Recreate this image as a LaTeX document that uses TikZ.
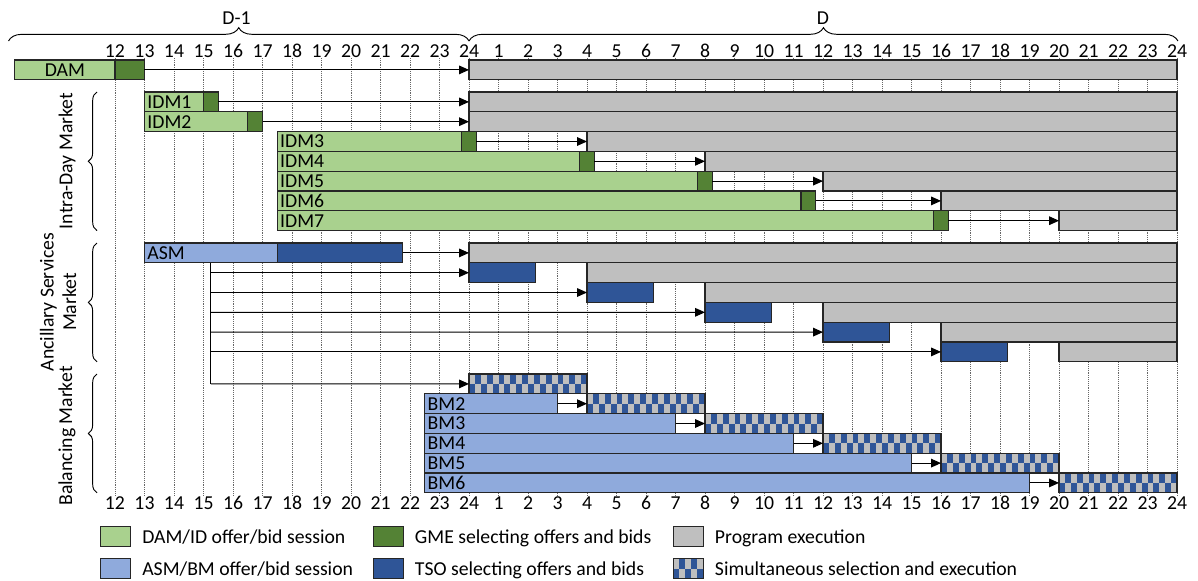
\documentclass[tikz,border=0pt]{standalone}
\usepackage{fontspec}
\setmainfont{Carlito}
\usetikzlibrary{arrows.meta,decorations.pathreplacing,positioning}
\definecolor{damgreen}{HTML}{A9D18E}
\definecolor{gmegreen}{HTML}{548235}
\definecolor{asmblue}{HTML}{8FAADC}
\definecolor{tsoblue}{HTML}{2F5597}
\definecolor{execgray}{HTML}{BFBFBF}
% one bar of the chart: name, look, from hour, to hour, top (px)
\newcommand{\tbar}[5]{\node[seg,#2,minimum width={((#4)-(#3))*22.125pt}] (#1) at ({#3},{#5}) {};}
\begin{document}
\begin{tikzpicture}[x=22.125pt,y=-0.75pt,font=\fontsize{14.8}{17}\selectfont]
            %
            % `seg' is the outline shared by every bar.
            % `ses', `gme', `asmses', `tso', `exec' are the fills.
            % `checker' is used for simultaneous selection and execution.
            % `arr' is used for the arrows, `brc' for the braces.
            \tikzstyle{seg} = [draw=black!85,line width=1pt,inner sep=0pt,outer sep=0pt,minimum height=14.85pt,anchor=north west]
            \tikzstyle{ses} = [fill=damgreen]
            \tikzstyle{gme} = [fill=gmegreen]
            \tikzstyle{asmses} = [fill=asmblue]
            \tikzstyle{tso} = [fill=tsoblue]
            \tikzstyle{exec} = [fill=execgray]
            \tikzstyle{checker} = [fill=execgray,path picture={
                \foreach \i [evaluate=\i as \j using {int(mod(\i,2))}] in {0,...,24}
                \fill[tsoblue] ([shift={(\i*4.425pt,\j*7.425pt)}]path picture bounding box.south west) rectangle +(4.425pt,7.425pt);
                }]
            \tikzstyle{lbl} = [inner sep=2pt,text height=9.5pt,text depth=0pt]
            \tikzstyle{hour} = [inner sep=0pt,text height=9.5pt,text depth=0pt]
            \tikzstyle{gridline} = [draw=black!60,line width=0.5pt,dash pattern=on 0.7pt off 0.7pt]
            \tikzstyle{arr} = [-{Triangle[length=7.5pt,width=6.5pt]},line width=0.75pt]
            \tikzstyle{conn} = [line width=0.75pt]
            \tikzstyle{brc} = [decorate,decoration={brace,amplitude=10pt},line width=0.7pt]
            \tikzstyle{brcside} = [decorate,decoration={brace,amplitude=6.5pt},line width=0.7pt]
            \tikzstyle{key} = [draw=black!85,line width=1pt,minimum width=22.5pt,minimum height=15pt,inner sep=0pt,anchor=north west]
            \useasboundingbox (-3.898,0) rectangle (36.71,580);
            %
            % Hours and grid
            \foreach \h in {0,...,36} {
                \pgfmathtruncatemacro\lab{\h<13 ? \h+12 : \h-12}
                \draw[gridline] (\h,58) -- (\h,495);
                \node[hour] (top\h) at (\h,51) {\lab};
                \node[hour] (bot\h) at (\h,503) {\lab};
            }
            %
            % Days
            \coordinate (dayl) at (-3.61,41);
            \coordinate (daym) at (12,41);
            \coordinate (dayr) at (36.03,41);
            \draw[brc] (dayl) -- (daym);
            \draw[brc] (daym) -- (dayr);
            \node[hour] (dprev) at (4.12,18) {D-1};
            \node[hour] (dcur) at (24,18) {D};
            %
            % DAM
            \tbar{dams}{ses}{-3.4}{0}{60}
            \tbar{damg}{gme}{0}{1}{60}
            \tbar{damx}{exec}{12}{36}{60}
            \node[lbl] (daml) at (dams.center) {DAM};
            \draw[arr] (damg.east) -- (damx.west);
            %
            % Intra-Day Market
            \foreach \k/\s/\e/\g/\x in {1/1/3/3.5/12,2/1/4.5/5/12,3/5.5/11.75/12.25/16,4/5.5/15.75/16.25/20,5/5.5/19.75/20.25/24,6/5.5/23.25/23.75/28,7/5.5/27.75/28.25/32} {
                \pgfmathsetmacro\y{92+(\k-1)*19.8}
                \tbar{idms\k}{ses}{\s}{\e}{\y}
                \tbar{idmg\k}{gme}{\e}{\g}{\y}
                \tbar{idmx\k}{exec}{\x}{36}{\y}
                \node[lbl,right=0pt of idms\k.west] (idml\k) {IDM\k};
                \draw[arr] (idmg\k.east) -- (idmx\k.west);
            }
            %
            % Ancillary Services Market
            \tbar{asms}{asmses}{1}{5.5}{243}
            \tbar{asmt}{tso}{5.5}{9.75}{243}
            \tbar{asmx}{exec}{12}{36}{243}
            \node[lbl,right=0pt of asms.west] (asml) {ASM};
            \draw[arr] (asmt.east) -- (asmx.west);
            \coordinate (asmv0) at (3.25,262.8);
            \coordinate (asmv6) at (3.25,383.9);
            \draw[conn] (asmv0) -- (asmv6);
            \foreach \k in {1,...,5} {
                \pgfmathsetmacro\y{243+\k*19.8}
                \tbar{asmt\k}{tso}{12+4*(\k-1)}{14.25+4*(\k-1)}{\y}
                \tbar{asmx\k}{exec}{12+4*\k}{36}{\y}
                \coordinate (asmv\k) at (3.25,\y+9.9);
                \draw[arr] (asmv\k) -- (asmt\k.west);
            }
            %
            % Balancing Market
            \tbar{bmc1}{checker}{12}{16}{374}
            \draw[arr] (asmv6) -- (bmc1.west);
            \foreach \k in {2,...,6} {
                \pgfmathsetmacro\y{374+(\k-1)*19.8}
                \tbar{bms\k}{asmses}{10.5}{4*\k+7}{\y}
                \tbar{bmc\k}{checker}{4*\k+8}{4*\k+12}{\y}
                \node[lbl,right=0pt of bms\k.west] (bml\k) {BM\k};
                \draw[arr] (bms\k.east) -- (bmc\k.west);
            }
            %
            % Markets
            \coordinate (idmb) at (-0.61,230.6);
            \coordinate (idmt) at (-0.61,92);
            \coordinate (asmb) at (-0.61,361.8);
            \coordinate (asmt) at (-0.61,243);
            \coordinate (bmb) at (-0.61,492.8);
            \coordinate (bmt) at (-0.61,374);
            \draw[brcside] (idmb) -- (idmt);
            \draw[brcside] (asmb) -- (asmt);
            \draw[brcside] (bmb) -- (bmt);
            \node[rotate=90] (idmname) at (-1.627,161) {Intra-Day Market};
            \node[rotate=90,align=center,font=\fontsize{14.8}{17}\selectfont] (asmname) at (-1.93,302) {Ancillary Services\\Market};
            \node[rotate=90] (bmname) at (-1.627,436) {Balancing Market};
            %
            % Legend
            \node[key,fill=damgreen] (key1) at (-0.508,526) {};
            \node[key,fill=asmblue] (key2) at (-0.508,558) {};
            \node[key,fill=gmegreen] (key3) at (8.736,526) {};
            \node[key,fill=tsoblue] (key4) at (8.736,558) {};
            \node[key,fill=execgray] (key5) at (18.905,526) {};
            \node[key,checker] (key6) at (18.905,558) {};
            \node[lbl,right=6pt of key1] (keytext1) {DAM/ID offer/bid session};
            \node[lbl,right=6pt of key2] (keytext2) {ASM/BM offer/bid session};
            \node[lbl,right=6pt of key3] (keytext3) {GME selecting offers and bids};
            \node[lbl,right=6pt of key4] (keytext4) {TSO selecting offers and bids};
            \node[lbl,right=6pt of key5] (keytext5) {Program execution};
            \node[lbl,right=6pt of key6] (keytext6) {Simultaneous selection and execution};
        \end{tikzpicture}
\end{document}
